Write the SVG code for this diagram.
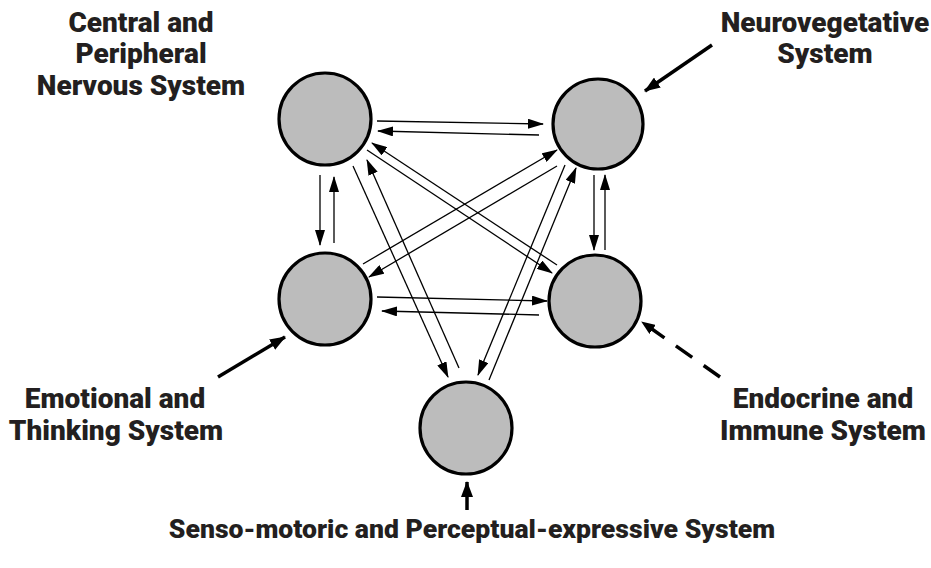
<svg xmlns="http://www.w3.org/2000/svg" width="931" height="568" viewBox="0 0 931 568">
<style>
.node{fill:#bcbcbc;stroke:#000;stroke-width:3.2}
.lbl{font-family:Roboto,"Liberation Sans",sans-serif;font-weight:900;font-size:28px;fill:#231f20;text-anchor:middle}
.thin{stroke:#000;stroke-width:1.3;fill:none;marker-end:url(#ah)}
.thick{stroke:#000;stroke-width:3.5;fill:none;marker-end:url(#bh)}
</style>
<defs>
<marker id="ah" markerUnits="userSpaceOnUse" viewBox="0 0 16 10" markerWidth="16" markerHeight="10" refX="15" refY="5" orient="auto"><path d="M0,0 L16,5 L0,10 z" fill="#000"/></marker>
<marker id="bh" markerUnits="userSpaceOnUse" viewBox="0 0 16 12" markerWidth="16" markerHeight="12" refX="15" refY="6" orient="auto"><path d="M0,0 L16,6 L0,12 z" fill="#000"/></marker>
<marker id="ch" markerUnits="userSpaceOnUse" viewBox="0 0 14 11" markerWidth="14" markerHeight="11" refX="13" refY="5.5" orient="auto"><path d="M0,0 L14,5.5 L0,11 z" fill="#000"/></marker>
</defs>
<g id="connectors">
<path class="thin" d="M377,121 L543,124"/>
<path class="thin" d="M539,135 L378,131"/>
<path class="thin" d="M320,175 L320,245"/>
<path class="thin" d="M334,243 L334,177"/>
<path class="thin" d="M594,175 L594,250"/>
<path class="thin" d="M605,250 L605,175"/>
<path class="thin" d="M377,297 L547,301"/>
<path class="thin" d="M539,315 L382,311"/>
<path class="thin" d="M367,150 L552,273"/>
<path class="thin" d="M557,265 L372,143"/>
<path class="thin" d="M353,166 L448,377"/>
<path class="thin" d="M459,368 L367,160"/>
<path class="thin" d="M565,165 L478,375"/>
<path class="thin" d="M489,380 L576,168"/>
<path class="thin" d="M363,264 L557,150"/>
<path class="thin" d="M557,166 L369,277"/>
<path class="thick" d="M712,45 L645,91"/>
<path class="thick" d="M218,377 L285,337"/>
<path class="thick" d="M467,510 L467,482"/>
<path d="M720,377 L642,322" stroke="#000" stroke-width="3.5" fill="none" stroke-dasharray="20 14" marker-end="url(#ch)"/>
</g>
<g id="node-cpns"><circle class="node" cx="325" cy="119" r="46"/></g>
<g id="node-neuroveg"><circle class="node" cx="598" cy="124" r="45"/></g>
<g id="node-emotional"><circle class="node" cx="325" cy="299" r="46"/></g>
<g id="node-endocrine"><circle class="node" cx="595" cy="301" r="46"/></g>
<g id="node-senso"><circle class="node" cx="466" cy="428" r="46"/></g>
<g id="labels">
<text class="lbl" x="141" y="32">Central and</text>
<text class="lbl" x="141" y="63">Peripheral</text>
<text class="lbl" x="141" y="95">Nervous System</text>
<text class="lbl" x="825" y="32">Neurovegetative</text>
<text class="lbl" x="825" y="63">System</text>
<text class="lbl" x="115" y="408">Emotional and</text>
<text class="lbl" x="116" y="440">Thinking System</text>
<text class="lbl" x="823" y="408">Endocrine and</text>
<text class="lbl" x="823" y="440">Immune System</text>
<text class="lbl" x="472" y="538" style="font-size:26.6px">Senso-motoric and Perceptual-expressive System</text>
</g>
</svg>
